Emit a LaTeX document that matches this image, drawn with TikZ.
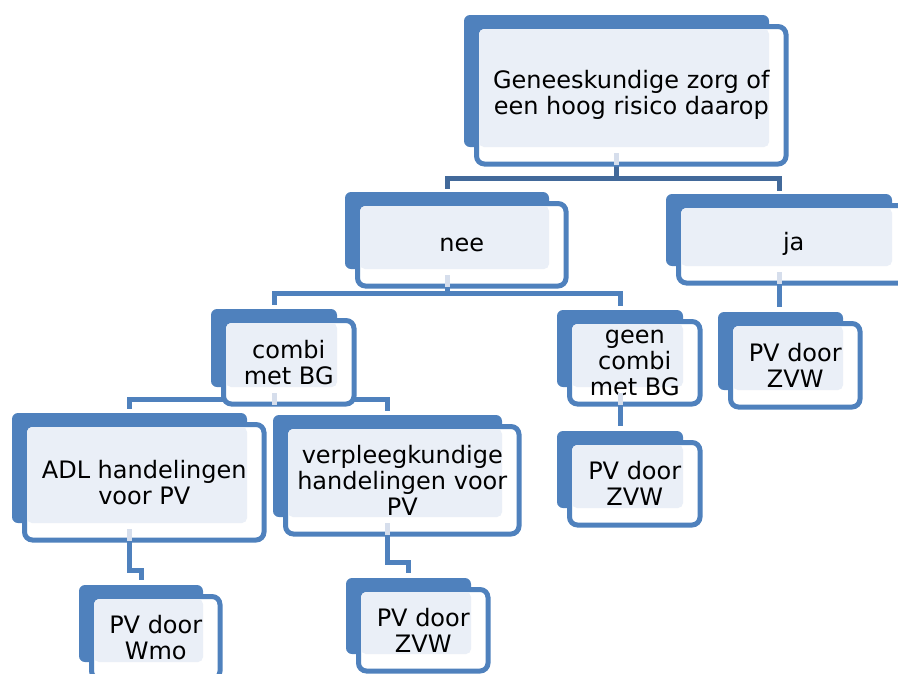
\documentclass[tikz,border=0pt]{standalone}
\usepackage{fontspec}
\setmainfont{DejaVu Sans}
\usetikzlibrary{calc,backgrounds}
\definecolor{boxblue}{HTML}{4F81BD}
\definecolor{boxlight}{HTML}{EAEFF7}
\definecolor{stubblue}{HTML}{D6DEEC}
\definecolor{linedark}{HTML}{42699A}
\begin{document}
\begin{tikzpicture}[x=1pt, y=-1pt,
        backbox/.style={fill=boxblue, rounded corners=6pt, inner sep=0pt, outer sep=0pt},
        frontbox/.style={draw=boxblue, fill=white, line width=5pt, rounded corners=8pt, inner sep=0pt, outer sep=0pt},
        boxtext/.style={align=center, inner sep=0pt, font=\fontsize{24}{26}\selectfont},
        conn/.style={draw=boxblue, line width=5pt},
        stub/.style={draw=stubblue, line width=5pt}]
    \useasboundingbox (0,0) rectangle (898,673);
    \clip (0,0) rectangle (898,673);
    % boxes: name / back box corners / text
    \foreach \n/\xa/\ya/\xb/\yb/\t in {
        top/464/15/769/147/{Geneeskundige zorg of\\een hoog risico daarop},
        nee/345/192/549/269/{nee},
        ja/666/194/892/266/{ja},
        combi/211/309/337/387/{combi\\met BG},
        geen/557/310/683/387/{geen\\combi\\met BG},
        zvwa/718/312/843/390/{PV door\\ZVW},
        adl/12/413/247/523/{ADL handelingen\\voor PV},
        verpl/273/415/502/517/{verpleegkundige\\handelingen voor\\PV},
        zvwb/557/431/683/508/{PV door\\ZVW},
        wmo/79/585/203/662/{PV door\\Wmo},
        zvwc/346/578/471/654/{PV door\\ZVW}} {
        \node[backbox, minimum width={(\xb-\xa)*1pt}, minimum height={(\yb-\ya)*1pt}] (\n b) at ({(\xa+\xb)/2},{(\ya+\yb)/2}) {};
        \node[frontbox, minimum width={(\xb-\xa+4.5)*1pt}, minimum height={(\yb-\ya+5.5)*1pt}] (\n) at ({(\xa+\xb)/2+14.75},{(\ya+\yb)/2+14.25}) {};
        \fill[boxlight, rounded corners=5pt] ($(\n.north west)+(2.5,2.5)$) rectangle (\n b.south east);
        \node[boxtext] (\n t) at (\n) {\t};
    }
    % connectors behind the boxes
    \begin{pgfonlayer}{background}
        \draw[conn, draw=linedark] (topb.south) -- ++(0,31) -| ([yshift=3pt]neeb.north);
        \draw[conn, draw=linedark] (topb.south) -- ++(0,31) -| ([yshift=3pt]jab.north);
        \draw[conn] (neeb.south) -- ++(0,24.5) -| ([yshift=4pt]combib.north);
        \draw[conn] (neeb.south) -- ++(0,24.5) -| ([yshift=4pt]geenb.north);
        \draw[conn] (combib.south) -- ++(0,12) -| ([yshift=4pt]adlb.north);
        \draw[conn] (combib.south) -- ++(0,12) -| ([yshift=4pt]verplb.north);
        \draw[conn] (jab.south) -- ([yshift=5pt]jab.south |- zvwab.north);
        \draw[conn] (geenb.south) -- ([yshift=5pt]geenb.south |- zvwbb.north);
        \draw[conn] (adlb.south) -- ++(0,47) -| ([yshift=5pt]wmob.north);
        \draw[conn] (verplb.south) -- ++(0,45) -| ([yshift=5pt]zvwcb.north);
    \end{pgfonlayer}
    \foreach \n in {top, nee, ja, combi, geen, adl, verpl}
        \draw[stub] ($(\n b.south)+(0,6)$) -- ++(0,12);
\end{tikzpicture}
\end{document}
